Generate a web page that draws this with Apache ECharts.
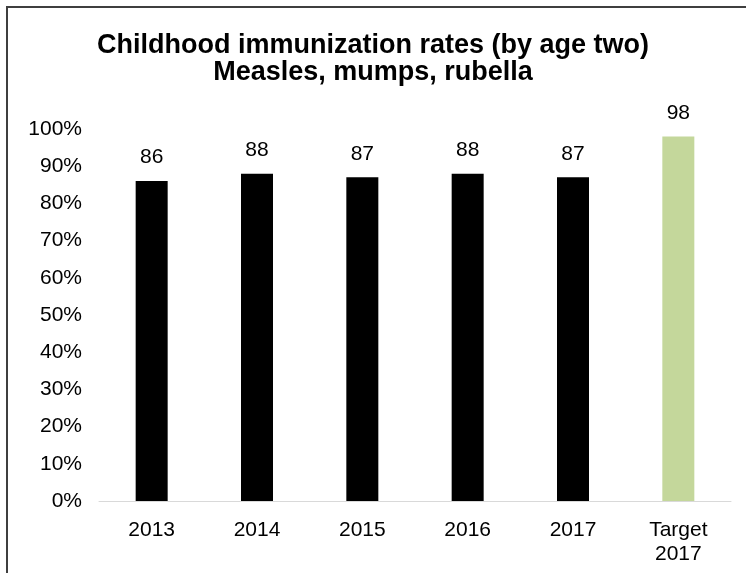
<!DOCTYPE html>
<html>
<head>
<meta charset="utf-8">
<script src="https://cdn.jsdelivr.net/npm/echarts@6/dist/echarts.min.js"></script>
<style>
  html, body { margin: 0; padding: 0; background: #fff; }
  #chart { width: 746px; height: 573px; }
</style>
</head>
<body>
<div id="chart"></div>
<script>
// MMR immunization rates by age two, with the 2017 target
const categories = ['2013', '2014', '2015', '2016', '2017', 'Target\n2017'];
const rates = [86, 88, 87, 88, 87, 98];
const barColors = ['#000000', '#000000', '#000000', '#000000', '#000000', '#c4d79b'];
const yTicks = [0, 10, 20, 30, 40, 50, 60, 70, 80, 90, 100];

const font = '"Liberation Sans", Arial, sans-serif';

const chart = echarts.init(document.getElementById('chart'), null, { renderer: 'canvas' });
chart.setOption({
  backgroundColor: '#ffffff',
  animation: false,
  title: {
    text: 'Childhood immunization rates (by age two)\nMeasles, mumps, rubella',
    left: 'center',
    top: 27,
    textStyle: {
      fontFamily: font,
      fontSize: 27,
      fontWeight: 'bold',
      color: '#000',
      lineHeight: 27
    }
  },
  graphic: [{
    type: 'rect',
    shape: { x: 7, y: 7, width: 900, height: 800 },
    style: { fill: 'none', stroke: '#3f3f3f', lineWidth: 2 },
    silent: true
  }],
  grid: { left: 99, right: 15, top: 129, bottom: 72, containLabel: false },
  xAxis: {
    type: 'category',
    data: categories,
    axisLine: { show: true, lineStyle: { color: '#d9d9d9', width: 1 } },
    axisTick: { show: false },
    axisLabel: {
      color: '#000',
      fontFamily: font,
      fontSize: 21,
      lineHeight: 24,
      margin: 17
    }
  },
  yAxis: {
    type: 'value',
    min: yTicks[0],
    max: yTicks[yTicks.length - 1],
    interval: 10,
    axisLine: { show: false },
    axisTick: { show: false },
    splitLine: { show: false },
    axisLabel: {
      color: '#000',
      fontFamily: font,
      fontSize: 21,
      margin: 17,
      formatter: v => v + '%'
    }
  },
  series: [{
    type: 'bar',
    data: rates.map((v, i) => ({ value: v, itemStyle: { color: barColors[i] } })),
    barWidth: 32,
    label: {
      show: true,
      position: 'top',
      distance: 13,
      color: '#000',
      fontFamily: font,
      fontSize: 21
    }
  }]
});
</script>
</body>
</html>
